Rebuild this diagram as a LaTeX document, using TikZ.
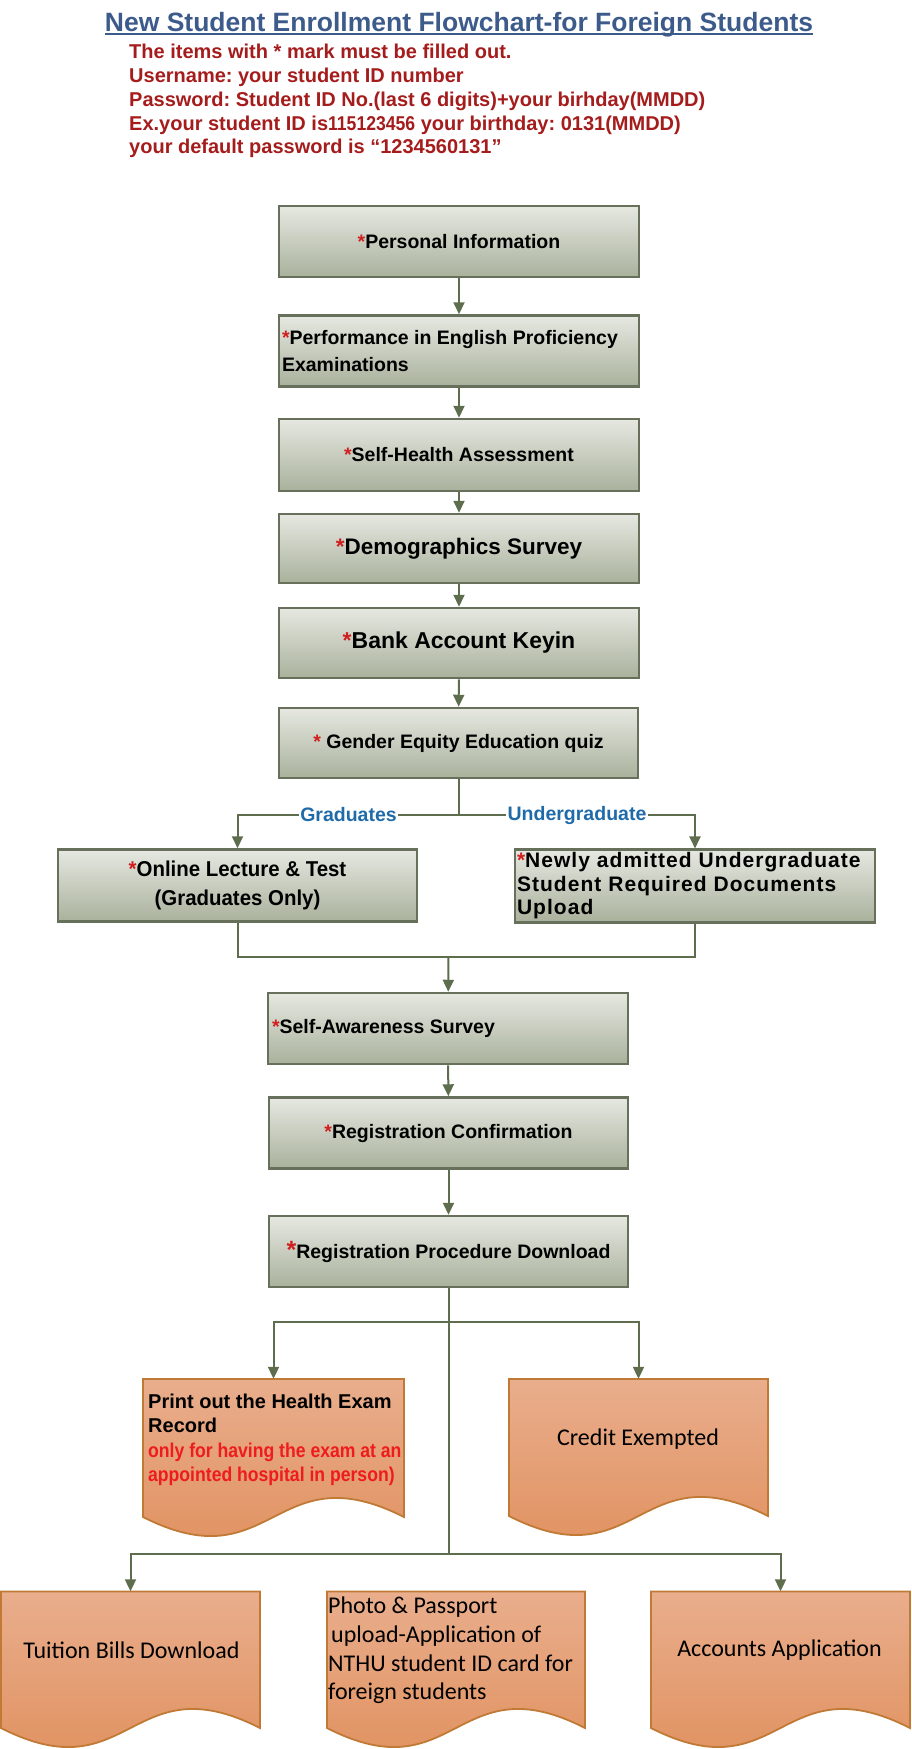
\documentclass[tikz,border=0pt]{standalone}
\usepackage{fontspec}
\setmainfont{Liberation Sans}
\newfontfamily\calfont{Carlito}
\newfontfamily\narrowfont[FakeStretch=0.88]{Liberation Sans}
\newfontfamily\semnarrow[FakeStretch=0.95]{Liberation Sans}
\newfontfamily\spacedfont[LetterSpace=5]{Liberation Sans}
\usetikzlibrary{arrows.meta}
\frenchspacing
\definecolor{titleblue}{HTML}{3C5B8A}
\definecolor{hdrred}{HTML}{A51C1C}
\definecolor{astred}{HTML}{D01F1F}
\definecolor{boxtop}{HTML}{E6E8E1}
\definecolor{boxbot}{HTML}{A9B19C}
\definecolor{boxline}{HTML}{66705A}
\definecolor{lineol}{HTML}{5E6D4D}
\definecolor{labelblue}{HTML}{1F6BAA}
\definecolor{doctop}{HTML}{E9AE8D}
\definecolor{docbot}{HTML}{DF8C57}
\definecolor{docline}{HTML}{C07A36}
\definecolor{hred}{HTML}{EE1C1C}
\newcommand\rast{\textcolor{astred}{*}}
\newcommand\docshape[4]{%
  \draw[docstyle] (#1,#3) -- (#2,#3) -- (#2,#4)
    .. controls ({(#1+#2)/2},#4-66) and ({(#1+#2)/2},#4+66) .. (#1,#4) -- cycle;}
\begin{document}
\begin{tikzpicture}[x=1pt,y=-1pt,
  box/.style={draw=boxline, line width=2.5pt, top color=boxtop, bottom color=boxbot,
    minimum width=360pt, minimum height=71pt, inner sep=3pt, align=center,
    font=\bfseries\fontsize{19.5}{26}\selectfont},
  hdr/.style={anchor=base west, inner sep=0pt, text=hdrred,
    font=\bfseries\fontsize{20}{24}\selectfont},
  conn/.style={draw=lineol, line width=2pt, -{Triangle[length=12pt,width=11pt]}},
  plain/.style={draw=lineol, line width=2pt},
  lbl/.style={fill=white, inner xsep=1.5pt, inner ysep=2pt, text=labelblue,
    font=\bfseries\fontsize{19.5}{22}\selectfont},
  docstyle/.style={draw=docline, line width=1.8pt, top color=doctop, bottom color=docbot},
  docframe/.style={inner sep=0pt},
  doctext/.style={inner sep=0pt, font=\calfont\fontsize{24}{28.7}\selectfont}
]
\useasboundingbox (0,0) rectangle (911,1749);

% title and header
\node[anchor=base, inner sep=0pt, text=titleblue,
  font=\bfseries\fontsize{26.5}{30}\selectfont] (title) at (459,31)
  {New Student Enrollment Flowchart-for Foreign Students};
\draw[titleblue, line width=2pt] ([yshift=-3pt]title.base west) -- ([yshift=-3pt]title.base east);
\node[hdr] (h1) at (129,58.3) {The items with * mark must be filled out.};
\node[hdr] (h2) at (129,82.3) {Username: your student ID number};
\node[hdr] (h3) at (129,106) {Password: Student ID No.(last 6 digits)+your birhday(MMDD)};
\node[hdr] (h4) at (129,130) {Ex.your student ID is{\narrowfont 115123456} your birthday: 0131(MMDD)};
\node[hdr] (h5) at (129,153.3) {your default password is “1234560131”};

% boxes
\node[box] (b1) at (459,241.5) {\rast Personal Information};
\node[box, minimum height=71pt, text width=354pt, align=flush left, font=\bfseries\fontsize{19.5}{26.7}\selectfont] (b2) at (459,351) {\rast Performance in English Proficiency\\Examinations};
\node[box, minimum height=72pt] (b3) at (459,455) {\rast Self-Health Assessment};
\node[box, minimum height=69pt, font=\bfseries\fontsize{22.5}{26}\selectfont] (b4) at (459,548.5) {\rast Demographics Survey};
\node[box, minimum height=70pt, font=\bfseries\fontsize{23}{26}\selectfont] (b5) at (459,643) {\rast Bank Account Keyin};
\node[box, minimum width=359pt, minimum height=70pt] (b6) at (458.5,743) {\rast\ Gender Equity Education quiz};
\node[box, minimum width=359pt, minimum height=72pt, font=\bfseries\semnarrow\fontsize{21.5}{29}\selectfont] (b7) at (237.5,885.5) {\rast Online Lecture \& Test\\(Graduates Only)};
\node[box, minimum width=360pt, minimum height=72pt, text width=356pt, align=flush left, inner xsep=2pt, font=\bfseries\spacedfont\fontsize{21}{23.5}\selectfont] (b8) at (695,886) {\rast Newly admitted Undergraduate\\Student Required Documents\\Upload};
\node[box, minimum width=360pt, minimum height=71pt, text width=352pt, align=flush left, inner xsep=4pt] (b9) at (448,1028.5) {\rast Self-Awareness Survey};
\node[box, minimum width=359pt, minimum height=71pt] (b10) at (448.5,1133) {\rast Registration Confirmation};
\node[box, minimum width=359pt, minimum height=71pt] (b11) at (448.5,1251.5) {\textcolor{astred}{\fontsize{25}{26}\selectfont *}Registration Procedure Download};

% documents
\docshape{143}{404}{1379}{1517}
\docshape{509}{768}{1379}{1516}
\docshape{1}{260}{1591.5}{1728}
\docshape{327}{585}{1591.5}{1728}
\docshape{651}{910}{1591.5}{1728}
\node[docframe, minimum width=261pt, minimum height=138pt] (dh) at (273.5,1448) {};
\node[docframe, minimum width=259pt, minimum height=137pt] (dc) at (638.5,1447.5) {};
\node[docframe, minimum width=259pt, minimum height=136.5pt] (dt) at (130.5,1659.75) {};
\node[docframe, minimum width=258pt, minimum height=136.5pt] (dp) at (456,1659.75) {};
\node[docframe, minimum width=259pt, minimum height=136.5pt] (da) at (780.5,1659.75) {};

\node[anchor=north west, inner sep=0pt, text width=258pt, align=flush left,
  font=\bfseries\fontsize{20}{24.5}\selectfont] (th) at (148,1393.5)
  {Print out the Health Exam\\Record\\
   \textcolor{hred}{\narrowfont only for having the exam at an}\\
   \textcolor{hred}{\narrowfont appointed hospital in person)}};
\node[doctext] (tc) at (638,1439) {Credit Exempted};
\node[doctext] (tt) at (131.5,1650) {Tuition Bills Download};
\node[doctext, anchor=north west, text width=256pt, align=flush left] (tp) at (328,1597)
  {Photo \& Passport\\\hspace*{3pt}upload-Application of\\NTHU student ID card for\\foreign students};
\node[doctext] (ta) at (779.5,1650) {Accounts Application};

% connectors
\draw[conn] (b1) -- (b2);
\draw[conn] (b2) -- (b3);
\draw[conn] (b3) -- (b4);
\draw[conn] (b4) -- (b5);
\draw[conn] (b5) -- (b6);
\coordinate (s1) at (458.5,815);
\draw[plain] (b6) -- (s1);
\draw[conn] (s1) -| (b7.north);
\draw[conn] (s1) -| (b8.north);
\node[lbl] (lg) at (348.5,815) {Graduates};
\node[lbl] (lu) at (577,815) {Undergraduate};
\coordinate (m1) at (448.5,957);
\draw[plain] (b7.south) |- (m1) -| (b8.south);
\draw[conn] (m1) -- (b9);
\draw[conn] (b9) -- (b10);
\draw[conn] (b10) -- (b11);
\coordinate (s2) at (448.5,1322);
\coordinate (s3) at (448.5,1554);
\draw[plain] (b11) -- (s3);
\draw[conn] (s2) -| (dh.north);
\draw[conn] (s2) -| (dc.north);
\draw[conn] (s3) -| (dt.north);
\draw[conn] (s3) -| (da.north);
\end{tikzpicture}
\end{document}
